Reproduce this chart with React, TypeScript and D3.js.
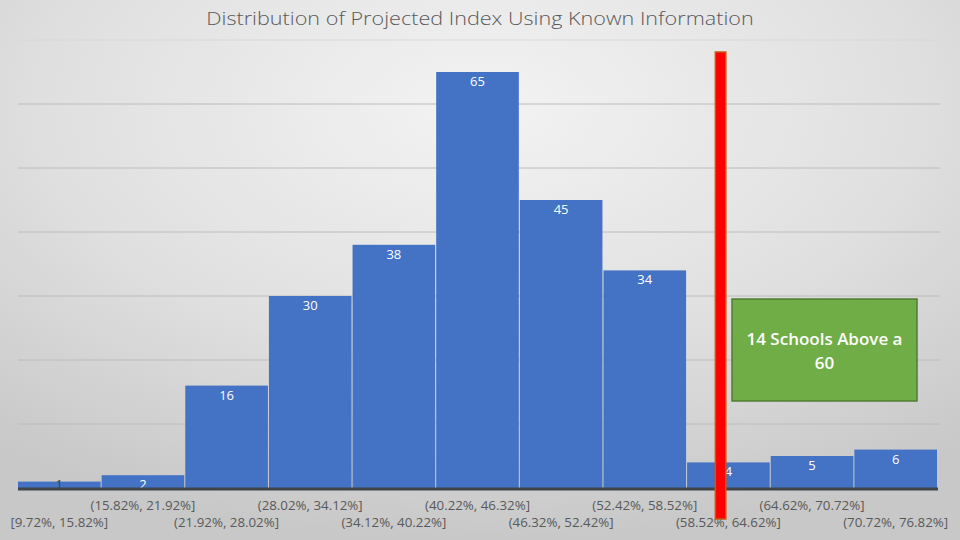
import React from "react";
import * as d3 from "d3";

const binLabels = [
  "[9.72%, 15.82%]",
  "(15.82%, 21.92%]",
  "(21.92%, 28.02%]",
  "(28.02%, 34.12%]",
  "(34.12%, 40.22%]",
  "(40.22%, 46.32%]",
  "(46.32%, 52.42%]",
  "(52.42%, 58.52%]",
  "(58.52%, 64.62%]",
  "(64.62%, 70.72%]",
  "(70.72%, 76.82%]",
];
const counts = [1, 2, 16, 30, 38, 65, 45, 34, 4, 5, 6];
const yTicks = [0, 10, 20, 30, 40, 50, 60, 70];
const binRange = [9.72, 76.82];
const markerValue = 61.0;
const title = "Distribution of Projected Index Using Known Information";
const calloutLines = ["14 Schools Above a", "60"];

const W = 960;
const H = 540;
const left = 18;
const right = 937;
const top = 40;
const bottom = 488;

export default function App() {
  const x = d3.scaleBand<string>().domain(binLabels).range([left, right]).paddingInner(0.012);
  const xv = d3.scaleLinear().domain(binRange).range([left, right]);
  const y = d3.scaleLinear().domain([0, 70]).range([bottom, top]);
  const font = "'Open Sans', 'Noto Sans', sans-serif";
  const mx = xv(markerValue);

  return (
    <svg width={W} height={H} style={{ position: "absolute", left: 0, top: 0, display: "block" }}>
      <defs>
        <radialGradient id="bg" cx="50%" cy="20%" r="80%">
          <stop offset="0%" stopColor="#f3f3f3" />
          <stop offset="55%" stopColor="#e0e0e0" />
          <stop offset="100%" stopColor="#c8c8c8" />
        </radialGradient>
      </defs>
      <rect x={0} y={0} width={W} height={H} fill="url(#bg)" />
      <g transform="translate(480,25) scale(1.2,1)">
        <text x={0} y={0} textAnchor="middle" fontFamily={font} fontSize={18} fill="#595959" fontWeight={300}>
          {title}
        </text>
      </g>
      {yTicks.slice(1).map((t) => (
        <line key={t} x1={left} x2={940} y1={y(t)} y2={y(t)} stroke={t === 70 ? "#d8d8d8" : "#bcbcbc"} strokeWidth={1} />
      ))}
      {counts.map((c, i) => {
        const bx = x(binLabels[i])!;
        return (
          <g key={i}>
            <rect x={bx} y={y(c)} width={x.bandwidth()} height={bottom - y(c)} fill="#4472C4" />
            <text
              x={bx + x.bandwidth() / 2}
              y={Math.min(y(c) + 14, bottom + 1)}
              textAnchor="middle"
              fontFamily={font}
              fontSize={13}
              fill={c < 2 ? "#3a3f4a" : "#ffffff"}
            >
              {c}
            </text>
          </g>
        );
      })}
      <line x1={left} x2={938} y1={bottom + 1} y2={bottom + 1} stroke="#3f4448" strokeWidth={3} />
      {binLabels.map((l, i) => (
        <text
          key={l}
          x={x(l)! + x.bandwidth() / 2}
          y={i % 2 === 1 ? 510 : 527}
          textAnchor="middle"
          fontFamily={font}
          fontSize={13.3}
          fill="#595959"
        >
          {l}
        </text>
      ))}
      <rect x={mx - 5} y={52} width={10.5} height={467} fill="#FF0000" stroke="#C55A11" strokeWidth={1.5} />
      <rect x={732} y={299} width={185} height={102} fill="#70AD47" stroke="#507E32" strokeWidth={1.5} />
      {calloutLines.map((t, i) => (
        <text key={i} x={824.5} y={345 + i * 24} textAnchor="middle" fontFamily={font} fontSize={17} fontWeight={600} fill="#ffffff">
          {t}
        </text>
      ))}
    </svg>
  );
}
